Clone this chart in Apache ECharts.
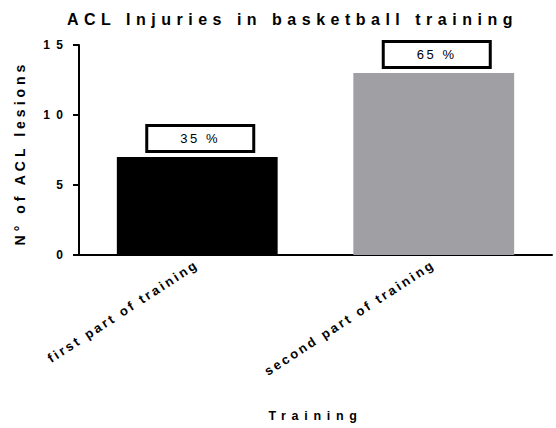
<!DOCTYPE html>
<html>
<head>
<meta charset="utf-8">
<script src="https://cdn.jsdelivr.net/npm/echarts@6/dist/echarts.min.js"></script>
<style>
    html, body { margin: 0; padding: 0; background: #fff; }
    #chart { width: 556px; height: 428px; }
    /* Prism-like wide tracking, picked per text size */
    #chart text[style*="16px"] { letter-spacing: 5.5px; }
    #chart text[style*="14px"] { letter-spacing: 4px; }
    #chart text[style*="12.5px"] { letter-spacing: 5.7px; }
    #chart text[style*="12px"] { letter-spacing: 6.5px; }
    #chart text[style*="13px"] { letter-spacing: 2.6px; }
</style>
</head>
<body>
<div id="chart"></div>
<script>
// 数据
const categories = [ 'first part of training', 'second part of training' ];
const lesions = [ 7, 13 ];
const barColors = [ '#000000', '#a09fa4' ];
const yTicks = [ 0, 5, 10, 15 ];

const total = lesions.reduce(( a, b ) => a + b, 0 );
const fontFamily = 'Liberation Sans, Arial, sans-serif';

const chart = echarts.init( document.getElementById( 'chart' ), null, { renderer: 'svg' } );

const option = {
    animation: false,
    title: {
        text: 'ACL Injuries in basketball training',
        left: 62,
        top: 6,
        textStyle: {
            fontFamily,
            fontSize: 16,
            fontWeight: 'bold',
            color: '#000'
        }
    },
    grid: {
        left: 79,
        right: 4,
        top: 45,
        bottom: 173,
        outerBoundsMode: 'none'
    },
    xAxis: {
        type: 'category',
        data: categories,
        name: 'Training',
        nameLocation: 'middle',
        nameGap: 154,
        nameTextStyle: {
            fontFamily,
            fontSize: 12.5,
            fontWeight: 'bold',
            color: '#000'
        },
        axisLine: {
            lineStyle: { color: '#000', width: 2 }
        },
        axisTick: {
            alignWithLabel: true,
            length: 5,
            lineStyle: { color: '#000', width: 2 }
        },
        axisLabel: {
            interval: 0,
            rotate: 33,
            margin: 8,
            fontFamily,
            fontSize: 13,
            fontWeight: 'bold',
            color: '#000'
        }
    },
    yAxis: {
        type: 'value',
        min: yTicks[0],
        max: yTicks[yTicks.length - 1],
        interval: yTicks[1] - yTicks[0],
        name: 'N° of ACL lesions',
        nameLocation: 'middle',
        nameGap: 52,
        nameTextStyle: {
            fontFamily,
            fontSize: 14,
            fontWeight: 'bold',
            color: '#000',
            padding: [ 0, 6, 0, 0 ]
        },
        axisLine: {
            show: true,
            lineStyle: { color: '#000', width: 2 }
        },
        axisTick: {
            show: true,
            length: 6,
            lineStyle: { color: '#000', width: 2 }
        },
        splitLine: { show: false },
        axisLabel: {
            margin: 9.5,
            fontFamily,
            fontSize: 12,
            fontWeight: 'bold',
            color: '#000'
        }
    },
    series: [
        {
            type: 'bar',
            barWidth: '68%',
            data: lesions.map(( v, i ) => ({
                value: v,
                itemStyle: { color: barColors[i] }
            })),
            label: {
                show: true,
                position: 'top',
                distance: 7,
                offset: [ 3, 0 ],
                formatter: ( p ) => Math.round( p.value / total * 100 ) + ' %',
                fontFamily,
                fontSize: 13,
                color: '#000',
                width: 88,
                align: 'center',
                lineHeight: 15,
                padding: [ 4, 8 ],
                backgroundColor: '#fff',
                borderColor: '#000',
                borderWidth: 3
            }
        }
    ]
};

chart.setOption( option );
</script>
</body>
</html>
